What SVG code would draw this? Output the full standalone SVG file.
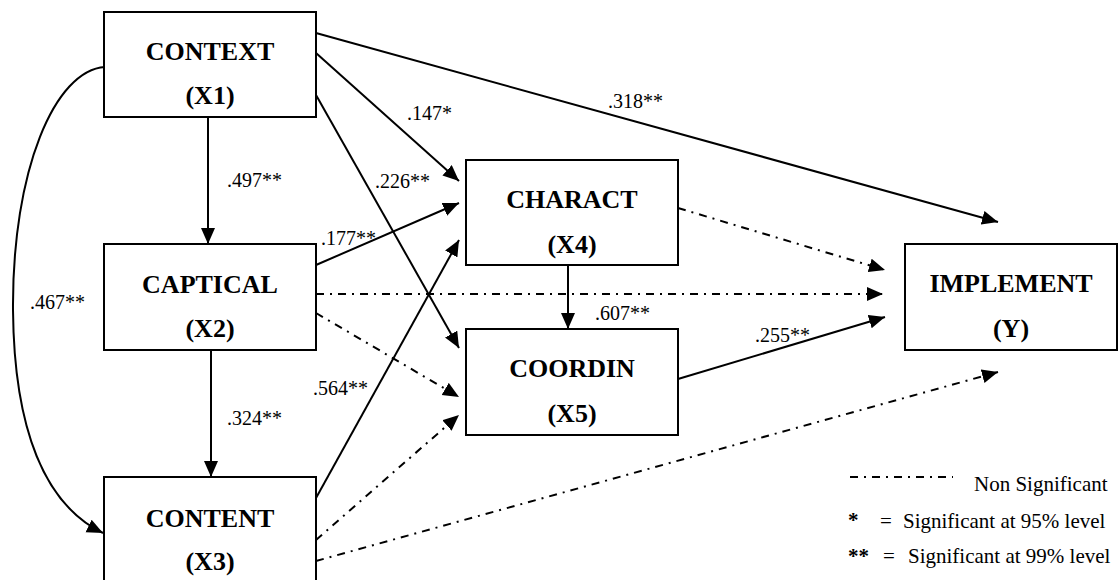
<svg xmlns="http://www.w3.org/2000/svg" width="1120" height="580" viewBox="0 0 1120 580">
<style>
.box{fill:#fff;stroke:#000;stroke-width:2}
.nt{font-family:'Liberation Serif','Times New Roman',serif;font-weight:bold;font-size:26px;text-anchor:middle;fill:#000}
.lb{font-family:'Liberation Serif','Times New Roman',serif;font-size:20px;fill:#000}
.lg{font-family:'Liberation Serif','Times New Roman',serif;font-size:21px;fill:#000}
.s{fill:none;stroke:#000;stroke-width:2}
.d{fill:none;stroke:#000;stroke-width:2;stroke-dasharray:8 6 2 6}
</style>
<defs>
<marker id="ah" markerUnits="userSpaceOnUse" markerWidth="17" markerHeight="15" refX="16" refY="7" orient="auto">
<path d="M0,0 L16,7 L0,14 z" fill="#000" stroke="none"/>
</marker>
</defs>
<rect width="1120" height="580" fill="#fff"/>
<g id="connectors">
<path class="s" d="M105,67 C55,70 12,170 13,310 C14,430 45,505 103,533" marker-end="url(#ah)"/>
<line class="s" x1="208" y1="117" x2="208" y2="244" marker-end="url(#ah)"/>
<line class="s" x1="211" y1="350" x2="211" y2="477" marker-end="url(#ah)"/>
<line class="s" x1="316" y1="33" x2="998" y2="222" marker-end="url(#ah)"/>
<line class="s" x1="316" y1="53" x2="459" y2="181" marker-end="url(#ah)"/>
<line class="s" x1="316" y1="95" x2="459" y2="348" marker-end="url(#ah)"/>
<line class="s" x1="316" y1="265" x2="459" y2="203" marker-end="url(#ah)"/>
<line class="d" x1="316" y1="294" x2="883" y2="294" marker-end="url(#ah)"/>
<line class="d" x1="316" y1="313" x2="459" y2="397" marker-end="url(#ah)"/>
<line class="s" x1="316" y1="498" x2="459" y2="240" marker-end="url(#ah)"/>
<line class="d" x1="316" y1="540" x2="459" y2="415" marker-end="url(#ah)"/>
<line class="d" x1="316" y1="561" x2="998" y2="372" marker-end="url(#ah)"/>
<line class="d" x1="678" y1="208" x2="885" y2="270" marker-end="url(#ah)"/>
<line class="s" x1="568" y1="265" x2="568" y2="329" marker-end="url(#ah)"/>
<line class="s" x1="678" y1="379" x2="885" y2="317" marker-end="url(#ah)"/>
</g>
<g id="labels">
<text class="lb" x="227" y="187">.497**</text>
<text class="lb" x="30" y="309">.467**</text>
<text class="lb" x="227" y="425">.324**</text>
<text class="lb" x="608" y="108">.318**</text>
<text class="lb" x="407" y="120">.147*</text>
<text class="lb" x="375" y="188">.226**</text>
<text class="lb" x="321" y="245">.177**</text>
<text class="lb" x="313" y="395">.564**</text>
<text class="lb" x="595" y="320">.607**</text>
<text class="lb" x="755" y="342">.255**</text>
</g>
<g id="context">
<rect class="box" x="104" y="12" width="212" height="105"/>
<text class="nt" x="210" y="60">CONTEXT</text>
<text class="nt" x="210" y="104">(X1)</text>
</g>
<g id="captical">
<rect class="box" x="104" y="244" width="212" height="106"/>
<text class="nt" x="210" y="293">CAPTICAL</text>
<text class="nt" x="210" y="337">(X2)</text>
</g>
<g id="content">
<rect class="box" x="104" y="477" width="212" height="108"/>
<text class="nt" x="210" y="527">CONTENT</text>
<text class="nt" x="210" y="570">(X3)</text>
</g>
<g id="charact">
<rect class="box" x="466" y="160" width="212" height="105"/>
<text class="nt" x="572" y="208">CHARACT</text>
<text class="nt" x="572" y="253">(X4)</text>
</g>
<g id="coordin">
<rect class="box" x="466" y="329" width="212" height="106"/>
<text class="nt" x="572" y="377">COORDIN</text>
<text class="nt" x="572" y="422">(X5)</text>
</g>
<g id="implement">
<rect class="box" x="905" y="244" width="212" height="106"/>
<text class="nt" x="1011" y="292">IMPLEMENT</text>
<text class="nt" x="1011" y="337">(Y)</text>
</g>
<g id="legend">
<line class="d" x1="850" y1="477" x2="953" y2="477"/>
<text class="lg" x="974" y="491">Non Significant</text>
<text class="lg" x="848" y="527" font-weight="bold">*</text>
<text class="lg" x="880" y="528">=</text>
<text class="lg" x="903" y="528">Significant at 95% level</text>
<text class="lg" x="848" y="563" font-weight="bold">**</text>
<text class="lg" x="883" y="563">=</text>
<text class="lg" x="908" y="563">Significant at 99% level</text>
</g>
</svg>
